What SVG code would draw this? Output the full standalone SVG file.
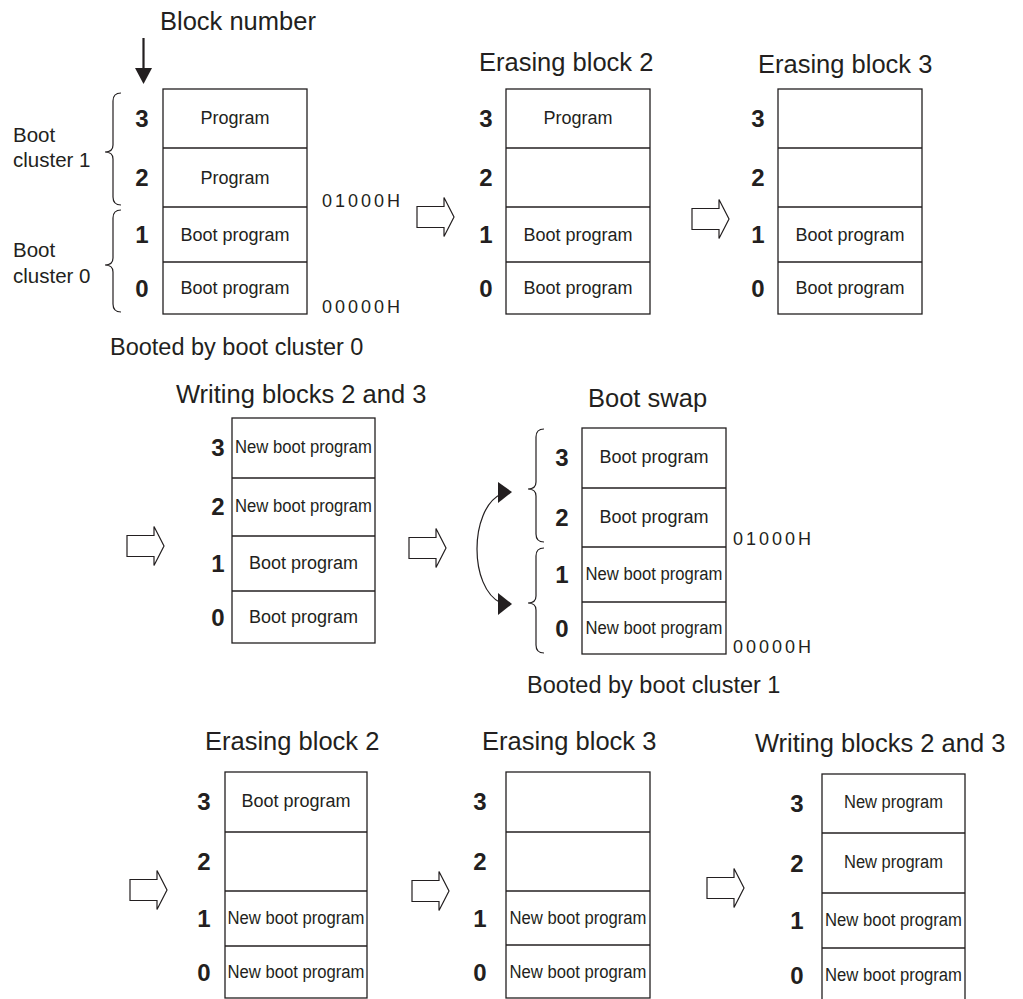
<svg xmlns="http://www.w3.org/2000/svg" width="1023" height="999" viewBox="0 0 1023 999">
<style>
text{font-family:"Liberation Sans",Arial,sans-serif;fill:#231f20}
.t{font-size:25.5px}
.n{font-size:24px;font-weight:bold;text-anchor:middle}
.l{font-size:18px;text-anchor:middle}
.nl{font-size:18px;text-anchor:middle}
.a{font-size:18px;letter-spacing:3px}
.c{font-size:20.5px}
.b{font-size:23.5px}
.box{fill:#fff;stroke:#231f20;stroke-width:1.3}
.div{stroke:#231f20;stroke-width:1.3}
.br{fill:none;stroke:#231f20;stroke-width:1.2}
.ha{fill:#fff;stroke:#231f20;stroke-width:1.2}
</style>
<defs>
<path id="harrow" d="M0,-10.5 H27 V-19.5 L37,0 L27,19.5 V10.5 H0 Z"/>
</defs>

<g id="labels">
<text class="t" x="160" y="30">Block number</text>
<text class="c" x="13" y="142">Boot</text>
<text class="c" x="13" y="167">cluster 1</text>
<text class="c" x="13" y="257">Boot</text>
<text class="c" x="13" y="283">cluster 0</text>
<text class="b" x="110" y="355">Booted by boot cluster 0</text>
<text class="b" x="527" y="693">Booted by boot cluster 1</text>
</g>

<g id="panel1">
<rect class="box" x="163" y="89" width="144" height="225"/>
<line class="div" x1="163" y1="148" x2="307" y2="148"/>
<line class="div" x1="163" y1="207" x2="307" y2="207"/>
<line class="div" x1="163" y1="262" x2="307" y2="262"/>
<text class="n" x="142" y="127">3</text>
<text class="n" x="142" y="186">2</text>
<text class="n" x="142" y="243">1</text>
<text class="n" x="142" y="297">0</text>
<text class="l" x="235" y="124">Program</text>
<text class="l" x="235" y="184">Program</text>
<text class="l" x="235" y="241">Boot program</text>
<text class="l" x="235" y="294">Boot program</text>
<text class="a" x="322" y="207">01000H</text>
<text class="a" x="322" y="313">00000H</text>
<path class="br" d="M121,93 Q113,93 113,101 V145 Q113,152 105,152 Q113,152 113,159 V197 Q113,205 121,205"/>
<path class="br" d="M121,210 Q113,210 113,218 V258 Q113,265 105,265 Q113,265 113,272 V304 Q113,312 121,312"/>
</g>

<g id="panel2">
<text class="t" x="479" y="71">Erasing block 2</text>
<rect class="box" x="506" y="89" width="144" height="225"/>
<line class="div" x1="506" y1="148" x2="650" y2="148"/>
<line class="div" x1="506" y1="207" x2="650" y2="207"/>
<line class="div" x1="506" y1="262" x2="650" y2="262"/>
<text class="n" x="486" y="127">3</text>
<text class="n" x="486" y="186">2</text>
<text class="n" x="486" y="243">1</text>
<text class="n" x="486" y="297">0</text>
<text class="l" x="578" y="124">Program</text>
<text class="l" x="578" y="241">Boot program</text>
<text class="l" x="578" y="294">Boot program</text>
</g>

<g id="panel3">
<text class="t" x="758" y="73">Erasing block 3</text>
<rect class="box" x="778" y="89" width="144" height="225"/>
<line class="div" x1="778" y1="148" x2="922" y2="148"/>
<line class="div" x1="778" y1="207" x2="922" y2="207"/>
<line class="div" x1="778" y1="262" x2="922" y2="262"/>
<text class="n" x="758" y="127">3</text>
<text class="n" x="758" y="186">2</text>
<text class="n" x="758" y="243">1</text>
<text class="n" x="758" y="297">0</text>
<text class="l" x="850" y="241">Boot program</text>
<text class="l" x="850" y="294">Boot program</text>
</g>

<g id="panel4">
<text class="t" x="176" y="403">Writing blocks 2 and 3</text>
<rect class="box" x="232" y="418" width="143" height="225"/>
<line class="div" x1="232" y1="478" x2="375" y2="478"/>
<line class="div" x1="232" y1="536" x2="375" y2="536"/>
<line class="div" x1="232" y1="591" x2="375" y2="591"/>
<text class="n" x="218" y="456">3</text>
<text class="n" x="218" y="515">2</text>
<text class="n" x="218" y="572">1</text>
<text class="n" x="218" y="626">0</text>
<text class="nl" x="303.5" y="453" textLength="137" lengthAdjust="spacingAndGlyphs">New boot program</text>
<text class="nl" x="303.5" y="512" textLength="137" lengthAdjust="spacingAndGlyphs">New boot program</text>
<text class="l" x="303.5" y="569">Boot program</text>
<text class="l" x="303.5" y="623">Boot program</text>
</g>

<g id="panel5">
<text class="t" x="588" y="407">Boot swap</text>
<rect class="box" x="582" y="428" width="144" height="226"/>
<line class="div" x1="582" y1="488" x2="726" y2="488"/>
<line class="div" x1="582" y1="547" x2="726" y2="547"/>
<line class="div" x1="582" y1="602" x2="726" y2="602"/>
<text class="n" x="562" y="466">3</text>
<text class="n" x="562" y="526">2</text>
<text class="n" x="562" y="583">1</text>
<text class="n" x="562" y="637">0</text>
<text class="l" x="654" y="463">Boot program</text>
<text class="l" x="654" y="523">Boot program</text>
<text class="nl" x="654" y="580" textLength="137" lengthAdjust="spacingAndGlyphs">New boot program</text>
<text class="nl" x="654" y="634" textLength="137" lengthAdjust="spacingAndGlyphs">New boot program</text>
<text class="a" x="733" y="545">01000H</text>
<text class="a" x="733" y="653">00000H</text>
<path class="br" d="M544,429 Q536,429 536,437 V482 Q536,489 528,489 Q536,489 536,496 V534 Q536,542 544,542"/>
<path class="br" d="M544,548 Q536,548 536,556 V596 Q536,603 528,603 Q536,603 536,610 V645 Q536,653 544,653"/>
</g>

<g id="panel6">
<text class="t" x="205" y="750">Erasing block 2</text>
<rect class="box" x="225" y="772" width="142" height="226"/>
<line class="div" x1="225" y1="832" x2="367" y2="832"/>
<line class="div" x1="225" y1="891" x2="367" y2="891"/>
<line class="div" x1="225" y1="946" x2="367" y2="946"/>
<text class="n" x="204" y="810">3</text>
<text class="n" x="204" y="870">2</text>
<text class="n" x="204" y="927">1</text>
<text class="n" x="204" y="981">0</text>
<text class="l" x="296" y="807">Boot program</text>
<text class="nl" x="296" y="924" textLength="137" lengthAdjust="spacingAndGlyphs">New boot program</text>
<text class="nl" x="296" y="978" textLength="137" lengthAdjust="spacingAndGlyphs">New boot program</text>
</g>

<g id="panel7">
<text class="t" x="482" y="750">Erasing block 3</text>
<rect class="box" x="506" y="772" width="144" height="226"/>
<line class="div" x1="506" y1="832" x2="650" y2="832"/>
<line class="div" x1="506" y1="891" x2="650" y2="891"/>
<line class="div" x1="506" y1="945" x2="650" y2="945"/>
<text class="n" x="480" y="810">3</text>
<text class="n" x="480" y="870">2</text>
<text class="n" x="480" y="927">1</text>
<text class="n" x="480" y="981">0</text>
<text class="nl" x="578" y="924" textLength="137" lengthAdjust="spacingAndGlyphs">New boot program</text>
<text class="nl" x="578" y="978" textLength="137" lengthAdjust="spacingAndGlyphs">New boot program</text>
</g>

<g id="panel8">
<text class="t" x="755" y="752">Writing blocks 2 and 3</text>
<rect class="box" x="822" y="774" width="143" height="232"/>
<line class="div" x1="822" y1="833" x2="965" y2="833"/>
<line class="div" x1="822" y1="893" x2="965" y2="893"/>
<line class="div" x1="822" y1="948" x2="965" y2="948"/>
<text class="n" x="797" y="812">3</text>
<text class="n" x="797" y="872">2</text>
<text class="n" x="797" y="929">1</text>
<text class="n" x="797" y="984">0</text>
<text class="nl" x="893.5" y="808" textLength="99" lengthAdjust="spacingAndGlyphs">New program</text>
<text class="nl" x="893.5" y="868" textLength="99" lengthAdjust="spacingAndGlyphs">New program</text>
<text class="nl" x="893.5" y="926" textLength="137" lengthAdjust="spacingAndGlyphs">New boot program</text>
<text class="nl" x="893.5" y="981" textLength="137" lengthAdjust="spacingAndGlyphs">New boot program</text>
</g>

<g id="connectors">
<line x1="143.5" y1="38" x2="143.5" y2="70" stroke="#231f20" stroke-width="2.2"/>
<polygon points="135,68 152,68 143.5,84" fill="#231f20"/>
<use href="#harrow" class="ha" transform="translate(417,217)"/>
<use href="#harrow" class="ha" transform="translate(692,219)"/>
<use href="#harrow" class="ha" transform="translate(127,546)"/>
<use href="#harrow" class="ha" transform="translate(409,548)"/>
<use href="#harrow" class="ha" transform="translate(130,890)"/>
<use href="#harrow" class="ha" transform="translate(412,891)"/>
<use href="#harrow" class="ha" transform="translate(707,888)"/>
<path d="M501,494 C469,510 469,588 501,603" fill="none" stroke="#231f20" stroke-width="1.2"/>
<polygon points="498,482 512,492 498,503" fill="#231f20"/>
<polygon points="498,593 512,604 498,615" fill="#231f20"/>
</g>
</svg>
